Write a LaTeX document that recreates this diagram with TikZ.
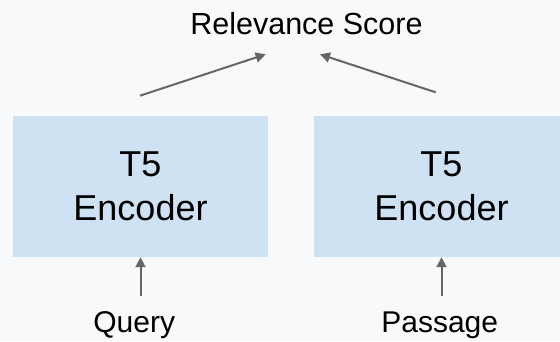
\documentclass[tikz,border=0pt]{standalone}
\usepackage{fontspec}
\setmainfont{Liberation Sans}
\usetikzlibrary{arrows.meta,calc}
\definecolor{bgc}{HTML}{F8F9FA}
\definecolor{boxc}{HTML}{CFE2F3}
\definecolor{arrc}{HTML}{666666}
\begin{document}
\begin{tikzpicture}[x=1pt,y=-1pt,
  encbox/.style={fill=boxc, draw=none, minimum width=255pt, minimum height=141pt,
    inner sep=0pt, align=center, font=\fontsize{36}{44.4}\selectfont},
  lbl/.style={anchor=base, inner sep=0pt, font=\fontsize{30}{36}\selectfont},
  conn/.style={draw=arrc, line width=2pt, -{Triangle[length=10pt,width=10pt]}}]
  % canvas
  \clip (0,0) rectangle (560,341);
  \fill[bgc] (0,0) rectangle (560,341);
  % encoders
  \node[encbox] (enc1) at (140.5,186.5) {T5\\Encoder};
  \node[encbox] (enc2) at (441.5,186.5) {T5\\Encoder};
  % labels
  \node[lbl, font=\fontsize{30.5}{36}\selectfont] (score) at (306.5,34) {Relevance Score};
  \node[lbl] (query) at (134.2,332.7) {Query};
  \node[lbl] (passage) at (439.7,332.7) {Passage};
  % connector ends
  \coordinate (s1) at (140,95.7);
  \coordinate (t1) at (265.7,54.3);
  \coordinate (s2) at (435.7,92.3);
  \coordinate (t2) at (320,54.3);
  \coordinate (q1) at ($(enc1.south)+(0,39)$);
  \coordinate (p1) at ($(enc2.south)+(0,39)$);
  % connectors
  \draw[conn] (s1) -- (t1);
  \draw[conn] (s2) -- (t2);
  \draw[conn] (q1) -- (enc1.south);
  \draw[conn] (p1) -- (enc2.south);
\end{tikzpicture}
\end{document}
